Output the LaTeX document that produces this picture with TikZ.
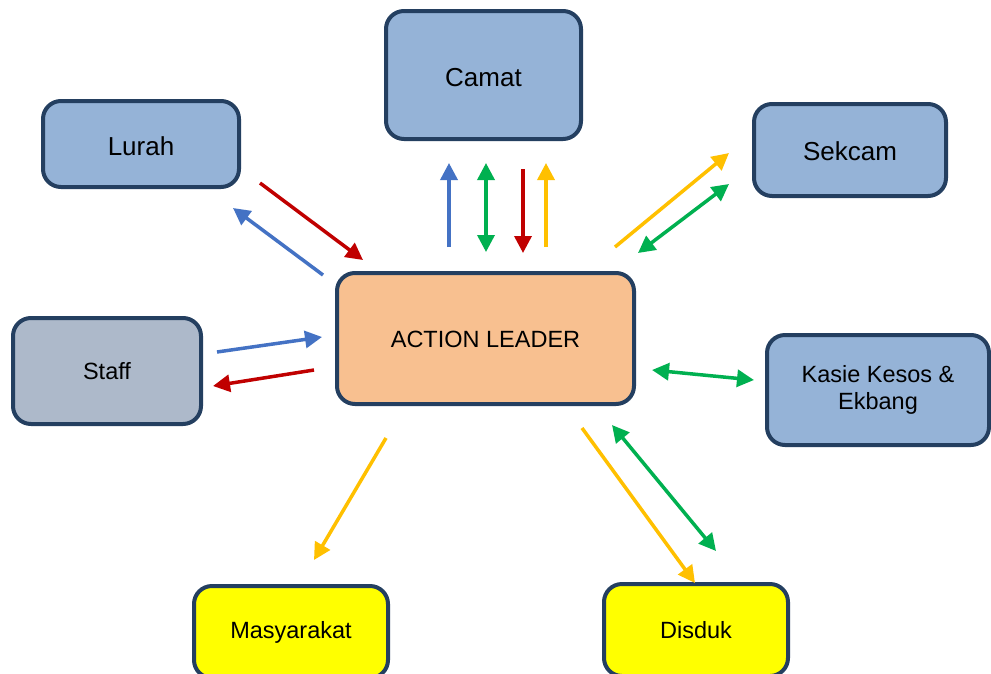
\documentclass[tikz,border=0pt]{standalone}
\usepackage{fontspec}
\setmainfont{Liberation Sans}
\usetikzlibrary{arrows.meta}
\definecolor{boxblue}{HTML}{95B3D7}
\definecolor{boxgray}{HTML}{ADB9CA}
\definecolor{boxorange}{HTML}{F8C090}
\definecolor{boxyellow}{HTML}{FFFF00}
\definecolor{edgenavy}{HTML}{243F60}
\definecolor{arblue}{HTML}{4472C4}
\definecolor{argreen}{HTML}{00B050}
\definecolor{arred}{HTML}{C00000}
\definecolor{aryellow}{HTML}{FFC000}
\tikzset{
  box/.style={draw=edgenavy, line width=4pt, rounded corners=18pt, inner sep=0pt, align=center},
  bigtext/.style={font=\fontsize{26}{30}\selectfont},
  smalltext/.style={font=\fontsize{23.5}{27}\selectfont},
  arr/.style={line width=3.5pt, -{Triangle[length=17pt,width=17pt]}},
  darr/.style={line width=3.5pt, {Triangle[length=17pt,width=17pt]}-{Triangle[length=17pt,width=17pt]}}
}
\newcommand{\lowertext}[2]{\raisebox{-#1}[\height][\depth]{#2}}
\begin{document}
\begin{tikzpicture}[x=1pt,y=-1pt]
\clip (0,0) rectangle (991,673);
\fill[white] (0,0) rectangle (991,673);
% boxes
\node[box, bigtext, fill=boxblue, minimum width=195pt, minimum height=128pt] (camat) at (483.5,75) {\lowertext{3pt}{Camat}};
\node[box, bigtext, fill=boxblue, minimum width=196pt, minimum height=86pt] (lurah) at (141,144) {\lowertext{2pt}{Lurah}};
\node[box, bigtext, fill=boxblue, minimum width=192pt, minimum height=92pt] (sekcam) at (850,150) {\lowertext{1pt}{Sekcam}};
\node[box, smalltext, fill=boxgray, minimum width=188pt, minimum height=106pt] (staff) at (107,371) {Staff};
\node[box, smalltext, fill=boxorange, minimum width=297pt, minimum height=131pt] (leader) at (485.5,338.5) {\lowertext{1pt}{ACTION LEADER}};
\node[box, smalltext, fill=boxblue, minimum width=222pt, minimum height=110pt] (kasie) at (878,390) {Kasie Kesos \&\\Ekbang};
\node[box, smalltext, fill=boxyellow, minimum width=194pt, minimum height=92pt] (masy) at (291,632) {Masyarakat};
\node[box, smalltext, fill=boxyellow, minimum width=184pt, minimum height=92pt] (disduk) at (696,630) {Disduk};
% arrow end points
\coordinate (lr1) at (260,183); \coordinate (lr2) at (363,260);
\coordinate (lb1) at (323,275); \coordinate (lb2) at (233,208);
\coordinate (cb1) at (449,247); \coordinate (cb2) at (449,163);
\coordinate (cg1) at (486,163); \coordinate (cg2) at (486,252);
\coordinate (cr1) at (523,169); \coordinate (cr2) at (523,253);
\coordinate (cy1) at (546,247); \coordinate (cy2) at (546,163);
\coordinate (sy1) at (615,247); \coordinate (sy2) at (729,153);
\coordinate (sg1) at (638,253); \coordinate (sg2) at (729,184);
\coordinate (tb1) at (217,352); \coordinate (tb2) at (322,337);
\coordinate (tr1) at (314,370); \coordinate (tr2) at (213,386);
\coordinate (kg1) at (652,370); \coordinate (kg2) at (754,380);
\coordinate (dy1) at (582,428); \coordinate (dy2) at (695,583);
\coordinate (dg1) at (612,425); \coordinate (dg2) at (716,551);
\coordinate (my1) at (386,438); \coordinate (my2) at (314,560);
% arrows
\draw[arr, arred] (lr1) -- (lr2);
\draw[arr, arblue] (lb1) -- (lb2);
\draw[arr, arblue] (cb1) -- (cb2);
\draw[darr, argreen] (cg1) -- (cg2);
\draw[arr, arred] (cr1) -- (cr2);
\draw[arr, aryellow] (cy1) -- (cy2);
\draw[arr, aryellow] (sy1) -- (sy2);
\draw[darr, argreen] (sg1) -- (sg2);
\draw[arr, arblue] (tb1) -- (tb2);
\draw[arr, arred] (tr1) -- (tr2);
\draw[darr, argreen] (kg1) -- (kg2);
\draw[arr, aryellow] (dy1) -- (dy2);
\draw[darr, argreen] (dg1) -- (dg2);
\draw[arr, aryellow] (my1) -- (my2);
\end{tikzpicture}
\end{document}
